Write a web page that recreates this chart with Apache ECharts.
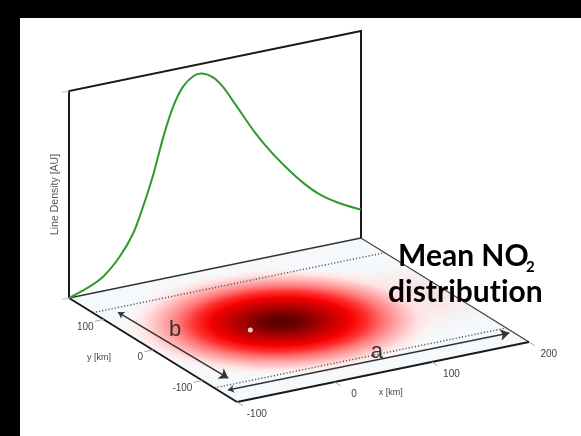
<!DOCTYPE html>
<html><head><meta charset="utf-8">
<script src="https://cdn.jsdelivr.net/npm/echarts@6/dist/echarts.min.js"></script>
<style>
html,body{margin:0;padding:0;background:#fff;}
#wrap{position:relative;width:581px;height:436px;overflow:hidden;background:#fff;}
#chart{position:absolute;left:0;top:0;width:581px;height:436px;}
.band{position:absolute;background:#000;}
</style></head><body>
<div id="wrap"><div id="chart"></div>
<div class="band" style="left:0;top:0;width:581px;height:18px"></div>
<div class="band" style="left:0;top:0;width:20px;height:436px"></div>
</div>
<script>
// ---------- data ----------
const xRange = [-100, 200];          // km
const yRange = [-170, 170];          // km
const zRange = [0, 1];               // line density (AU)
const xTicks = [-100, 0, 100, 200];
const yTicks = [100, 0, -100];
const profileX = [-100, -82, -65, -48, -34, -24, -13, -3, 7, 17, 28, 37, 48, 58, 72, 89, 106, 124, 141, 158, 178, 200];
const profileDensity = [0, 0.029, 0.069, 0.149, 0.249, 0.367, 0.519, 0.686, 0.821, 0.907, 0.949, 0.952, 0.923, 0.868, 0.762, 0.630, 0.515, 0.410, 0.322, 0.250, 0.189, 0.137];
const plumeCenter = [34, 5];
const plumeRadius = [150, 160];
const tailCenter = [125, 0];
const tailRadius = [140, 110];
const sourcePoint = [0, 0];
const bandY = [122, -124];
const arrowBFrom = [-80, 110];
const arrowBTo = [-77, -107];
const arrowAFrom = [-92, -136];
const arrowATo = [196, -138];
const labelA = [70, -118];
const labelB = [-58, 38];

// ---------- oblique projection (3D -> hidden 2D plane) ----------
const O = [69, 298];
const EX = [292 / 300, -60 / 300];
const EY = [-168 / 340, -104 / 340];
const EZ = [0, -207];
function proj(x, y, z) {
  z = z || 0;
  const dx = x - xRange[0], dy = y - yRange[1];
  return [O[0] + dx * EX[0] + dy * EY[0] + z * EZ[0],
          O[1] + dx * EX[1] + dy * EY[1] + z * EZ[1]];
}

const chart = echarts.init(document.getElementById('chart'), null, {renderer: 'canvas'});

function blob(api, center, radius, stops) {
  const c = api.coord(proj(center[0], center[1], 0));
  const px = api.coord(proj(center[0] + radius[0], center[1], 0));
  const py = api.coord(proj(center[0], center[1] + radius[1], 0));
  const m00 = px[0] - c[0], m10 = px[1] - c[1];
  const m01 = py[0] - c[0], m11 = py[1] - c[1];
  const E = (m00 + m11) / 2, F = (m00 - m11) / 2, G = (m10 + m01) / 2, H = (m10 - m01) / 2;
  const Q = Math.hypot(E, H), R = Math.hypot(F, G);
  const s1 = Q + R, s2 = Q - R;
  const a1 = Math.atan2(G, F), a2 = Math.atan2(H, E);
  const left = (a2 + a1) / 2;
  return {
    type: 'circle', x: c[0], y: c[1], rotation: -left,
    scaleX: s1 / 100, scaleY: s2 / 100,
    shape: {cx: 0, cy: 0, r: 100},
    style: {fill: {type: 'radial', x: 0.5, y: 0.5, r: 0.5, colorStops: stops}}
  };
}

const mainStops = [
  {offset: 0, color: '#560000'},
  {offset: 0.12, color: '#700000'},
  {offset: 0.27, color: '#b50000'},
  {offset: 0.42, color: '#f50000'},
  {offset: 0.52, color: '#ff3030'},
  {offset: 0.62, color: '#ff7a7a'},
  {offset: 0.72, color: '#ffb0b0'},
  {offset: 0.82, color: '#ffe0e0'},
  {offset: 0.92, color: 'rgba(255,242,242,0.35)'},
  {offset: 1, color: 'rgba(255,245,245,0)'}
];
const tailStops = [
  {offset: 0, color: 'rgba(255,140,140,0.5)'},
  {offset: 0.5, color: 'rgba(255,185,185,0.3)'},
  {offset: 1, color: 'rgba(255,225,225,0)'}
];

function line(a, b, stroke, w, dash) {
  return {type: 'line', shape: {x1: a[0], y1: a[1], x2: b[0], y2: b[1]},
    style: {stroke: stroke, lineWidth: w, lineDash: dash || null}};
}

// Catmull-Rom spline through the given pixel points -> SVG path data
function splinePath(pts) {
  let d = 'M' + pts[0][0] + ' ' + pts[0][1];
  for (let i = 0; i < pts.length - 1; i++) {
    const p0 = pts[Math.max(i - 1, 0)], p1 = pts[i], p2 = pts[i + 1], p3 = pts[Math.min(i + 2, pts.length - 1)];
    const c1 = [p1[0] + (p2[0] - p0[0]) / 6, p1[1] + (p2[1] - p0[1]) / 6];
    const c2 = [p2[0] - (p3[0] - p1[0]) / 6, p2[1] - (p3[1] - p1[1]) / 6];
    d += ' C' + c1[0] + ' ' + c1[1] + ' ' + c2[0] + ' ' + c2[1] + ' ' + p2[0] + ' ' + p2[1];
  }
  return d;
}

const axisFont = '10px "Liberation Sans", Arial, sans-serif';
const smallFont = '9px "Liberation Sans", Arial, sans-serif';

const option = {
  animation: false,
  backgroundColor: '#fff',
  grid: {left: 0, right: 0, top: 0, bottom: 0},
  xAxis: {type: 'value', min: 0, max: 581, show: false},
  yAxis: {type: 'value', min: 0, max: 436, inverse: true, show: false},
  series: [
    { // floor fill + plume
      type: 'custom', z: 1, data: [0], silent: true,
      renderItem: function (params, api) {
        const P = (x, y, z) => api.coord(proj(x, y, z));
        const floor = [P(xRange[0], yRange[1]), P(xRange[1], yRange[1]), P(xRange[1], yRange[0]), P(xRange[0], yRange[0])];
        return {type: 'group', children: [
          {type: 'polygon', shape: {points: floor}, style: {fill: '#f5f9fb'}},
          {type: 'group', clipPath: {type: 'polygon', shape: {points: floor}}, children: [
            blob(api, tailCenter, tailRadius, tailStops),
            blob(api, plumeCenter, plumeRadius, mainStops)
          ]}
        ]};
      }
    },
    { // frame, dotted lines, ticks, labels
      type: 'custom', z: 3, data: [0], silent: true,
      renderItem: function (params, api) {
        const P = (x, y, z) => api.coord(proj(x, y, z));
        const x0 = xRange[0], x1 = xRange[1], y0 = yRange[0], y1 = yRange[1];
        const ch = [];
        bandY.forEach(function (yb) { ch.push(line(P(x0, yb), P(x1, yb), '#555', 1.4, [1.2, 2])); });
        ch.push(line(P(x0, y1), P(x1, y1), '#333', 1.5));
        ch.push(line(P(x1, y1), P(x1, y0), '#444', 1.3));
        ch.push(line(P(x0, y1), P(x0, y0), '#1a1a1a', 2));
        ch.push(line(P(x0, y0), P(x1, y0), '#1a1a1a', 2));
        ch.push({type: 'polyline', shape: {points: [P(x0, y1, 0), P(x0, y1, zRange[1]), P(x1, y1, zRange[1]), P(x1, y1, 0)]},
          style: {stroke: '#1a1a1a', lineWidth: 2, fill: null}});
        ch.push(line(P(x0, y1, zRange[1]), P(x0 - 7, y1, zRange[1]), '#bbb', 1));
        ch.push(line(P(x0, y1, 0), P(x0 - 7, y1, 0), '#bbb', 1));
        xTicks.forEach(function (t) {
          ch.push(line(P(t, y0), P(t, y0 - 12), '#aaa', 1));
          const p = P(t, y0 - 40);
          ch.push({type: 'text', x: p[0], y: p[1], style: {text: String(t), font: axisFont, fill: '#444', align: 'center', verticalAlign: 'middle'}});
        });
        yTicks.forEach(function (t) {
          ch.push(line(P(x0, t), P(x0 - 9, t), '#aaa', 1));
          const p = P(x0, t);
          ch.push({type: 'text', x: p[0] - 10, y: p[1] + 7.5, style: {text: String(t), font: axisFont, fill: '#444', align: 'right', verticalAlign: 'middle'}});
        });
        const py = P(x0, 0);
        ch.push({type: 'text', x: py[0] - 54, y: py[1] + 8, style: {text: 'y [km]', font: smallFont, fill: '#444', align: 'center', verticalAlign: 'middle'}});
        const pxl = P(50, y0 - 40);
        ch.push({type: 'text', x: pxl[0] - 12, y: pxl[1] + 8, style: {text: 'x [km]', font: smallFont, fill: '#444', align: 'center', verticalAlign: 'middle'}});
        const pz = P(x0, y1, (zRange[0] + zRange[1]) / 2);
        ch.push({type: 'text', x: pz[0] - 14, y: pz[1], rotation: Math.PI / 2,
          style: {text: 'Line Density [AU]', font: '10.5px "Liberation Sans", Arial, sans-serif', fill: '#555', align: 'center', verticalAlign: 'middle'}});
        const la = P(labelA[0], labelA[1]);
        ch.push({type: 'text', x: la[0], y: la[1], style: {text: 'a', font: '22px "Liberation Sans", Arial, sans-serif', fill: '#333', align: 'center', verticalAlign: 'middle'}});
        const lb = P(labelB[0], labelB[1]);
        ch.push({type: 'text', x: lb[0], y: lb[1], style: {text: 'b', font: '22px "Liberation Sans", Arial, sans-serif', fill: '#333', align: 'center', verticalAlign: 'middle'}});
        return {type: 'group', children: ch};
      }
    },
    {
      type: 'lines', coordinateSystem: 'cartesian2d', z: 4, silent: true,
      symbol: ['arrow', 'arrow'], symbolSize: [6, 9],
      lineStyle: {color: '#333', width: 1.5, opacity: 1},
      data: [
        {coords: [proj(arrowBFrom[0], arrowBFrom[1]), proj(arrowBTo[0], arrowBTo[1])]},
        {coords: [proj(arrowAFrom[0], arrowAFrom[1]), proj(arrowATo[0], arrowATo[1])]}
      ]
    },
    { // line-density profile on the back wall
      type: 'custom', z: 5, silent: true, data: [0],
      renderItem: function (params, api) {
        const pts = profileX.map(function (x, i) { return api.coord(proj(x, yRange[1], profileDensity[i])); });
        return {type: 'path', shape: {pathData: splinePath(pts)},
          style: {stroke: '#2e9a2e', lineWidth: 2, fill: null, lineJoin: 'round'}};
      }
    },
    {
      type: 'scatter', z: 6, silent: true, symbolSize: 5,
      itemStyle: {color: '#fff'},
      data: [proj(sourcePoint[0], sourcePoint[1], 0)]
    }
  ],
  graphic: [
    {type: 'text', z: 100, x: 398, y: 256,
      style: {text: 'Mean NO', font: 'bold 30px Lato, "Open Sans", sans-serif', fill: '#000', align: 'left', verticalAlign: 'middle'}},
    {type: 'text', z: 100, x: 526, y: 267,
      style: {text: '2', font: 'bold 15px Lato, "Open Sans", sans-serif', fill: '#000', align: 'left', verticalAlign: 'middle'}},
    {type: 'text', z: 100, x: 388, y: 292,
      style: {text: 'distribut\u200Cion', font: 'bold 30px Lato, "Open Sans", sans-serif', fill: '#000', align: 'left', verticalAlign: 'middle'}}
  ]
};
chart.setOption(option);
</script>
</body></html>
